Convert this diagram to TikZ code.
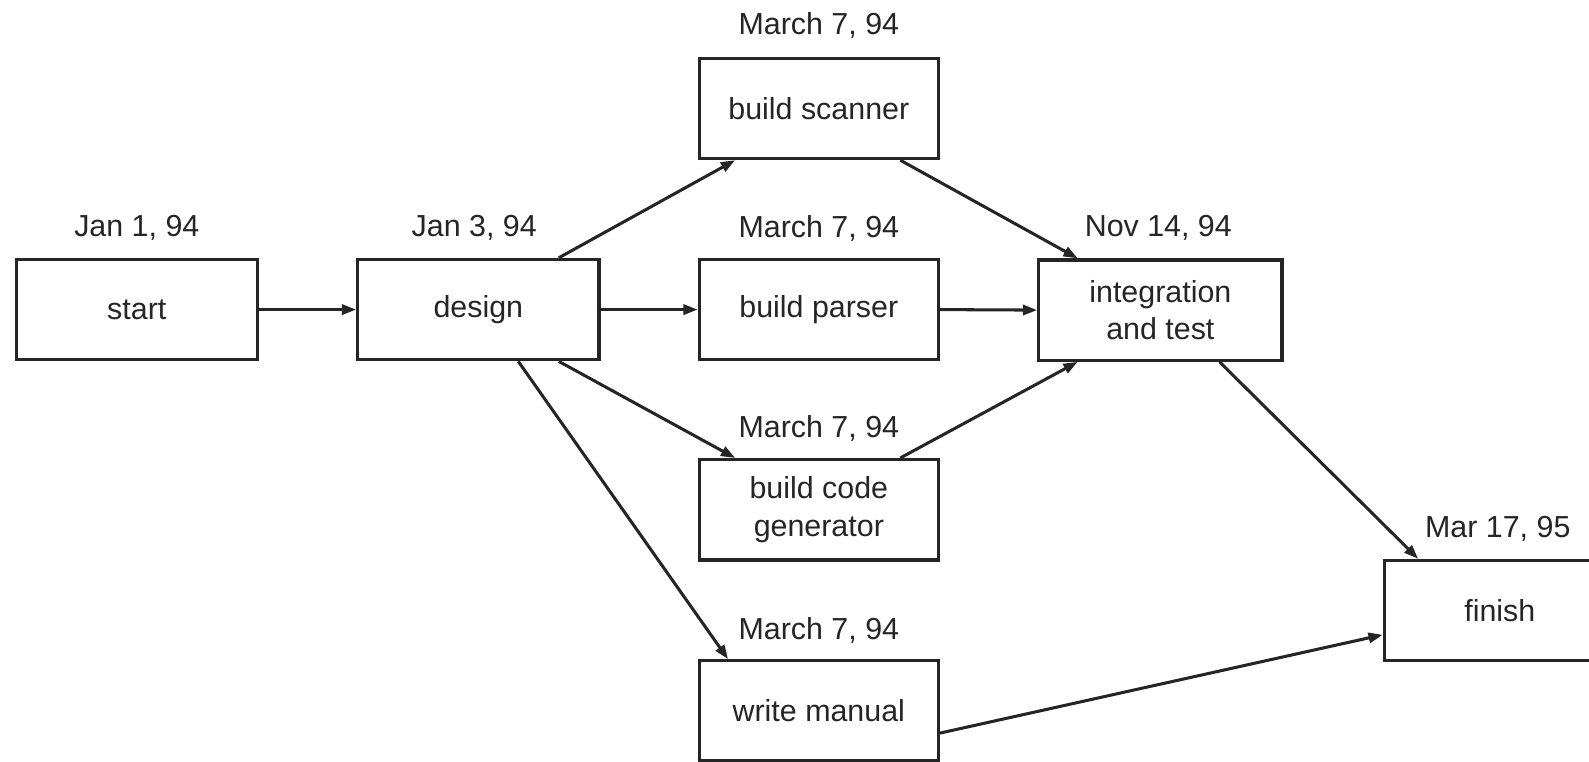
\documentclass[tikz,border=0pt]{standalone}
\usepackage{fontspec}
\setmainfont{Liberation Sans}
\usetikzlibrary{arrows.meta}
\definecolor{ink}{RGB}{38,36,36}
\begin{document}
\begin{tikzpicture}[x=1pt,y=-1pt,
  box/.style={draw=ink,line width=3.2pt,minimum width=238pt,minimum height=99pt,inner sep=0pt,align=center,
     font=\fontsize{30}{37}\selectfont,text=ink},
  datelabel/.style={inner sep=0pt,font=\fontsize{30}{37}\selectfont,text=ink},
  conn/.style={draw=ink,line width=3pt,-{Triangle[length=14pt,width=10pt]}}]
\useasboundingbox (0,0) rectangle (1568,751);
\clip (0,0) rectangle (1568,751);
\node[box] (start) at (135,305.5) {start};
\node[box] (design) at (472,305.5) {design};
\node[box,minimum width=236pt] (scanner) at (808,107) {build scanner};
\node[box,minimum width=236pt] (parser) at (808,305.5) {build parser};
\node[box,minimum width=240pt] (integ) at (1145,306) {integration\\and test};
\node[box,minimum width=236pt] (codegen) at (808,503) {build code\\generator};
\node[box,minimum width=236pt] (manual) at (808,701.5) {write manual};
\node[box,minimum width=228pt] (finish) at (1480,602.5) {finish};

\node[datelabel] (lstart) at (135,225) {Jan 1, 94};
\node[datelabel] (ldesign) at (468,225) {Jan 3, 94};
\node[datelabel] (lscanner) at (808,25) {March 7, 94};
\node[datelabel] (lparser) at (808,225) {March 7, 94};
\node[datelabel] (linteg) at (1143,225) {Nov 14, 94};
\node[datelabel] (lcodegen) at (808,423) {March 7, 94};
\node[datelabel] (lmanual) at (808,622) {March 7, 94};
\node[datelabel] (lfinish) at (1478,522) {Mar 17, 95};

\draw[conn] (start.east) -- (design.west);
\draw[conn] ([xshift=200]design.north west) -- ([xshift=37]scanner.south west);
\draw[conn] (design.east) -- (parser.west);
\draw[conn] ([xshift=200]design.south west) -- ([xshift=37]codegen.north west);
\draw[conn] ([xshift=160]design.south west) -- ([xshift=30]manual.north west);
\draw[conn] ([xshift=200]scanner.south west) -- ([xshift=40]integ.north west);
\draw[conn] (parser.east) -- (integ.west);
\draw[conn] ([xshift=200]codegen.north west) -- ([xshift=40]integ.south west);
\draw[conn] ([xshift=180]integ.south west) -- ([xshift=35]finish.north west);
\draw[conn] ([yshift=-73]manual.north east) -- ([yshift=-75]finish.north west);
\end{tikzpicture}
\end{document}
